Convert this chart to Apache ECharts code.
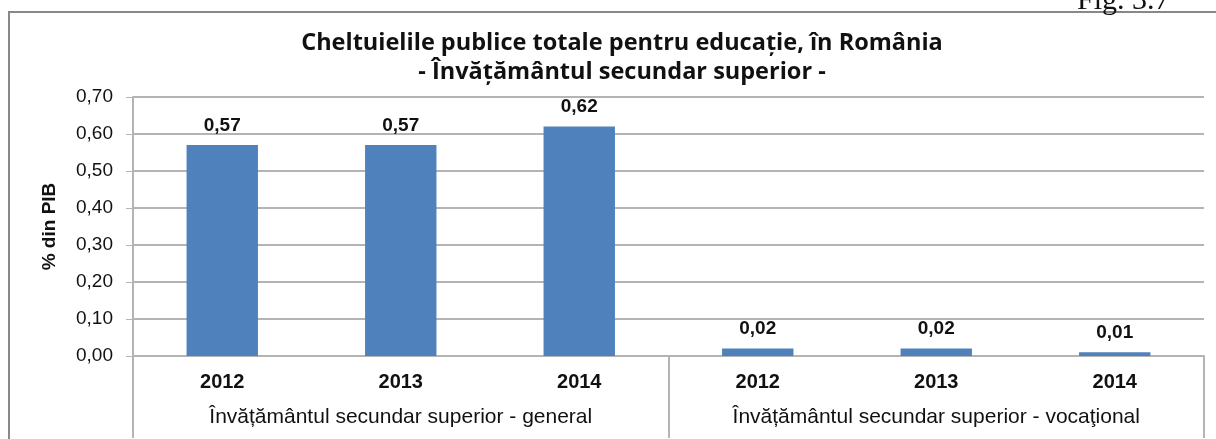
<!DOCTYPE html>
<html>
<head>
<meta charset="utf-8">
<script src="https://cdn.jsdelivr.net/npm/echarts@6/dist/echarts.min.js"></script>
<style>
  html, body { margin: 0; padding: 0; background: #fff; }
  #chart { width: 1216px; height: 439px; }
</style>
</head>
<body>
<div id="chart"></div>
<script>
  // ani pe fiecare categorie si grupele de invatamant
  var years = ['2012', '2013', '2014', '2012', '2013', '2014'];
  var groups = ['Învățământul secundar superior - general', 'Învățământul secundar superior - vocaţional'];
  var values = [0.57, 0.57, 0.62, 0.02, 0.02, 0.01];
  var yTicks = { min: 0, max: 0.7, interval: 0.1 };

  var chart = echarts.init(document.getElementById('chart'));
  var axisGray = '#b4b4b4';

  var option = {
    animation: false,
    backgroundColor: '#fff',
    title: [
      {
        text: 'Cheltuielile publice totale pentru educație, în România\n- Învățământul secundar superior -',
        left: 617,
        top: 24,
        textAlign: 'center',
        textStyle: {
          fontFamily: 'Open Sans',
          fontWeight: 'bold',
          fontSize: 23.5,
          lineHeight: 29,
          color: '#111'
        }
      },
      {
        text: 'Fig. 3.7',
        left: 1072,
        top: -19,
        textStyle: {
          fontFamily: 'Liberation Serif',
          fontWeight: 'normal',
          fontSize: 30,
          color: '#111'
        }
      }
    ],
    graphic: [
      {
        type: 'rect',
        shape: { x: 9, y: 12, width: 1230, height: 450 },
        style: { fill: 'none', stroke: '#888', lineWidth: 2 },
        silent: true
      }
    ],
    grid: {
      left: 133,
      right: 12,
      top: 97,
      bottom: 83,
      containLabel: false
    },
    xAxis: [
      {
        type: 'category',
        data: years,
        position: 'bottom',
        axisLine: { show: true, lineStyle: { color: axisGray, width: 2 } },
        axisTick: { show: false },
        axisLabel: {
          margin: 16,
          fontFamily: 'Liberation Sans',
          fontWeight: 'bold',
          fontSize: 20,
          color: '#111'
        }
      },
      {
        type: 'category',
        data: groups,
        position: 'bottom',
        axisLine: { show: false },
        axisTick: {
          show: true,
          interval: 0,
          alignWithLabel: false,
          length: 82,
          lineStyle: { color: axisGray, width: 2 }
        },
        axisLabel: {
          margin: 51,
          interval: 0,
          fontFamily: 'Liberation Sans',
          fontSize: 21,
          color: '#111'
        }
      }
    ],
    yAxis: {
      type: 'value',
      min: yTicks.min,
      max: yTicks.max,
      interval: yTicks.interval,
      name: '% din PIB',
      nameLocation: 'middle',
      nameRotate: 90,
      nameGap: 74,
      nameTextStyle: {
        fontFamily: 'Liberation Sans',
        fontWeight: 'bold',
        fontSize: 19,
        color: '#111'
      },
      axisLine: { show: true, lineStyle: { color: axisGray, width: 2 } },
      axisTick: { show: true, length: 7, lineStyle: { color: axisGray } },
      axisLabel: {
        margin: 20,
        fontFamily: 'Liberation Sans',
        fontSize: 19,
        color: '#111',
        formatter: function (v) { return v.toFixed(2).replace('.', ','); }
      },
      splitLine: { show: true, lineStyle: { color: axisGray, width: 2 } }
    },
    series: [
      {
        type: 'bar',
        data: values,
        barWidth: '40%',
        itemStyle: { color: '#4F81BD' },
        label: {
          show: true,
          position: 'top',
          distance: 10,
          fontFamily: 'Liberation Sans',
          fontWeight: 'bold',
          fontSize: 19,
          color: '#111',
          formatter: function (p) { return p.value.toFixed(2).replace('.', ','); }
        }
      }
    ]
  };

  chart.setOption(option);
</script>
</body>
</html>
